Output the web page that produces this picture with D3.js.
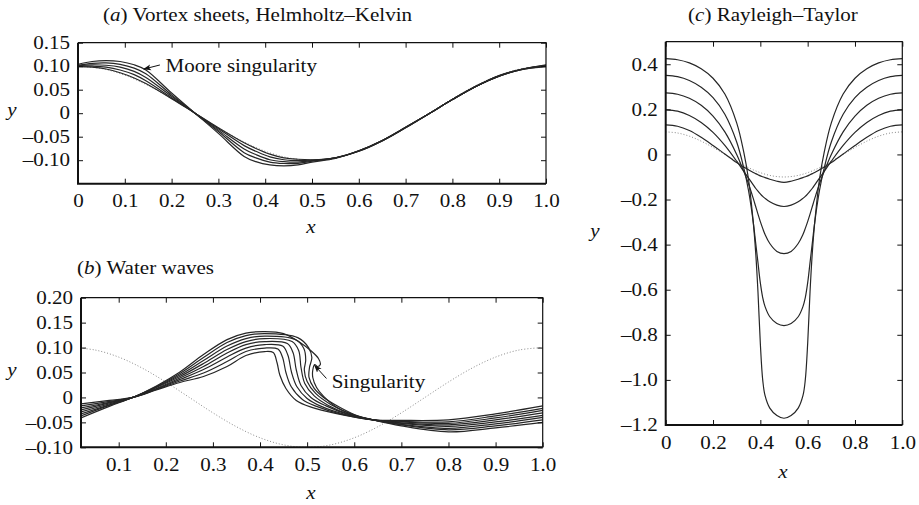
<!DOCTYPE html>
<html>
<head>
<meta charset="utf-8">
<script src="https://cdn.jsdelivr.net/npm/d3@7"></script>
<style>
    body { margin: 0; background: #fff; }
    svg text { font-family: "Liberation Serif", "Times New Roman", serif; font-size: 18px; fill: #111; }
</style>
</head>
<body>
<svg id="fig" width="919" height="505"></svg>
<script>
// ---------- data ----------
// initial condition (dotted), same in every panel
const xInit = [0, 0.05, 0.1, 0.15, 0.2, 0.25, 0.3, 0.35, 0.4, 0.45, 0.5, 0.55, 0.6, 0.65, 0.7, 0.75, 0.8, 0.85, 0.9, 0.95, 1.0];
const yInit = [0.1, 0.0951, 0.0809, 0.0588, 0.0309, 0, -0.0309, -0.0588, -0.0809, -0.0951, -0.1, -0.0951, -0.0809, -0.0588, -0.0309, 0, 0.0309, 0.0588, 0.0809, 0.0951, 0.1];

// (a) vortex sheets
const xA = [0, 0.03, 0.06, 0.09, 0.12, 0.145, 0.2, 0.25, 0.3, 0.355, 0.38, 0.41, 0.44, 0.47, 0.5, 0.55, 0.6, 0.65, 0.7, 0.75, 0.8, 0.85, 0.9, 0.95, 1.0];
const sheetA0 = [0.099, 0.098, 0.094, 0.086, 0.075, 0.063, 0.031, 0.000, -0.031, -0.063, -0.075, -0.087, -0.095, -0.098, -0.099, -0.095, -0.081, -0.059, -0.031, -0.001, 0.029, 0.057, 0.079, 0.093, 0.099];
const sheetA1 = [0.100, 0.100, 0.098, 0.092, 0.082, 0.069, 0.033, 0.000, -0.033, -0.069, -0.081, -0.093, -0.099, -0.101, -0.100, -0.095, -0.081, -0.059, -0.031, -0.001, 0.029, 0.057, 0.079, 0.093, 0.100];
const sheetA2 = [0.101, 0.103, 0.102, 0.098, 0.089, 0.076, 0.036, 0.000, -0.036, -0.076, -0.088, -0.099, -0.103, -0.104, -0.101, -0.095, -0.080, -0.058, -0.030, -0.001, 0.029, 0.057, 0.079, 0.094, 0.101];
const sheetA3 = [0.102, 0.106, 0.107, 0.104, 0.096, 0.084, 0.039, 0.000, -0.039, -0.084, -0.095, -0.104, -0.107, -0.107, -0.102, -0.095, -0.080, -0.058, -0.030, -0.001, 0.029, 0.057, 0.080, 0.094, 0.102];
const sheetA4 = [0.104, 0.110, 0.112, 0.110, 0.103, 0.092, 0.043, 0.000, -0.043, -0.092, -0.103, -0.110, -0.112, -0.110, -0.104, -0.096, -0.080, -0.058, -0.030, -0.001, 0.029, 0.057, 0.080, 0.094, 0.103];

// (b) water waves, [x, y] since the fronts overturn
const waveB0 = [[0.02,-0.013],[0.08,-0.006],[0.13,0.0],[0.18,0.015],[0.23,0.030],[0.28,0.042],[0.33,0.062],[0.37,0.084],[0.41,0.092],[0.428,0.090],[0.436,0.070],[0.442,0.045],[0.455,0.018],[0.477,-0.006],[0.51,-0.020],[0.56,-0.032],[0.64,-0.045],[0.7,-0.046],[0.8,-0.045],[0.9,-0.033],[1.0,-0.017]];
const waveB1 = [[0.02,-0.017],[0.08,-0.008],[0.13,0.0],[0.18,0.016],[0.23,0.033],[0.28,0.049],[0.33,0.072],[0.37,0.092],[0.41,0.099],[0.438,0.097],[0.448,0.080],[0.455,0.050],[0.466,0.022],[0.49,-0.004],[0.52,-0.018],[0.57,-0.033],[0.64,-0.045],[0.7,-0.048],[0.8,-0.049],[0.9,-0.037],[1.0,-0.022]];
const waveB2 = [[0.02,-0.021],[0.08,-0.010],[0.13,0.0],[0.18,0.017],[0.23,0.036],[0.28,0.056],[0.33,0.081],[0.37,0.099],[0.41,0.106],[0.448,0.103],[0.459,0.085],[0.467,0.050],[0.478,0.022],[0.50,-0.002],[0.53,-0.018],[0.58,-0.034],[0.64,-0.045],[0.7,-0.049],[0.8,-0.052],[0.9,-0.041],[1.0,-0.026]];
const waveB3 = [[0.02,-0.025],[0.08,-0.011],[0.13,0.0],[0.18,0.018],[0.23,0.039],[0.28,0.062],[0.33,0.089],[0.37,0.106],[0.41,0.112],[0.458,0.108],[0.470,0.090],[0.477,0.055],[0.487,0.024],[0.508,0.000],[0.54,-0.017],[0.59,-0.035],[0.64,-0.045],[0.7,-0.051],[0.8,-0.055],[0.9,-0.045],[1.0,-0.031]];
const waveB4 = [[0.02,-0.029],[0.08,-0.013],[0.13,0.0],[0.18,0.020],[0.23,0.042],[0.28,0.068],[0.33,0.096],[0.37,0.112],[0.41,0.118],[0.468,0.112],[0.482,0.094],[0.487,0.060],[0.495,0.028],[0.515,0.003],[0.545,-0.016],[0.59,-0.034],[0.64,-0.045],[0.7,-0.052],[0.8,-0.058],[0.9,-0.049],[1.0,-0.036]];
const waveB5 = [[0.02,-0.033],[0.08,-0.015],[0.13,0.0],[0.18,0.021],[0.23,0.045],[0.28,0.074],[0.33,0.103],[0.37,0.118],[0.41,0.123],[0.475,0.116],[0.493,0.098],[0.497,0.075],[0.494,0.055],[0.500,0.032],[0.518,0.008],[0.55,-0.014],[0.60,-0.036],[0.64,-0.045],[0.7,-0.054],[0.8,-0.062],[0.9,-0.053],[1.0,-0.040]];
const waveB6 = [[0.02,-0.037],[0.08,-0.016],[0.13,0.0],[0.18,0.022],[0.23,0.048],[0.28,0.080],[0.33,0.110],[0.37,0.124],[0.41,0.128],[0.48,0.120],[0.503,0.100],[0.510,0.080],[0.505,0.060],[0.504,0.040],[0.515,0.018],[0.535,0.000],[0.57,-0.020],[0.61,-0.038],[0.64,-0.045],[0.7,-0.055],[0.8,-0.065],[0.9,-0.057],[1.0,-0.045]];
const waveB7 = [[0.02,-0.041],[0.08,-0.018],[0.13,0.0],[0.18,0.023],[0.23,0.051],[0.28,0.086],[0.33,0.116],[0.37,0.129],[0.41,0.132],[0.45,0.128],[0.485,0.110],[0.51,0.092],[0.524,0.078],[0.528,0.066],[0.522,0.062],[0.516,0.066],[0.512,0.055],[0.512,0.040],[0.52,0.020],[0.535,0.002],[0.56,-0.018],[0.60,-0.035],[0.64,-0.045],[0.7,-0.057],[0.8,-0.069],[0.9,-0.061],[1.0,-0.050]];

// (c) Rayleigh-Taylor
const xC = [0, 0.05, 0.1, 0.15, 0.2, 0.25, 0.3, 0.33, 0.35, 0.37, 0.38, 0.39, 0.40, 0.41, 0.42, 0.44, 0.47, 0.5, 0.53, 0.56, 0.58, 0.59, 0.60, 0.61, 0.62, 0.63, 0.65, 0.67, 0.7, 0.75, 0.8, 0.85, 0.9, 0.95, 1.0];
const rtC0 = [0.131, 0.125, 0.106, 0.076, 0.040, 0.002, -0.036, -0.056, -0.068, -0.080, -0.085, -0.090, -0.095, -0.099, -0.103, -0.110, -0.119, -0.124, -0.119, -0.110, -0.103, -0.099, -0.095, -0.090, -0.085, -0.080, -0.068, -0.056, -0.036, 0.002, 0.040, 0.076, 0.106, 0.125, 0.131];
const rtC1 = [0.198, 0.192, 0.173, 0.142, 0.098, 0.040, -0.030, -0.075, -0.105, -0.135, -0.150, -0.163, -0.175, -0.186, -0.195, -0.210, -0.225, -0.231, -0.225, -0.210, -0.195, -0.186, -0.175, -0.163, -0.150, -0.135, -0.105, -0.075, -0.030, 0.040, 0.098, 0.142, 0.173, 0.192, 0.198];
const rtC2 = [0.273, 0.267, 0.249, 0.218, 0.170, 0.100, 0.000, -0.075, -0.130, -0.195, -0.230, -0.265, -0.298, -0.328, -0.355, -0.395, -0.430, -0.440, -0.430, -0.395, -0.355, -0.328, -0.298, -0.265, -0.230, -0.195, -0.130, -0.075, 0.000, 0.100, 0.170, 0.218, 0.249, 0.267, 0.273];
const rtC3 = [0.351, 0.345, 0.328, 0.298, 0.252, 0.178, 0.055, -0.060, -0.160, -0.300, -0.390, -0.480, -0.570, -0.635, -0.675, -0.720, -0.750, -0.759, -0.750, -0.720, -0.675, -0.635, -0.570, -0.480, -0.390, -0.300, -0.160, -0.060, 0.055, 0.178, 0.252, 0.298, 0.328, 0.345, 0.351];
const rtC4 = [0.425, 0.420, 0.406, 0.380, 0.338, 0.268, 0.140, 0.010, -0.110, -0.300, -0.430, -0.610, -0.840, -1.000, -1.070, -1.125, -1.158, -1.170, -1.158, -1.125, -1.070, -1.000, -0.840, -0.610, -0.430, -0.300, -0.110, 0.010, 0.140, 0.268, 0.338, 0.380, 0.406, 0.420, 0.425];

// ticks
const xTicksA = [0, 0.1, 0.2, 0.3, 0.4, 0.5, 0.6, 0.7, 0.8, 0.9, 1.0];
const yTicksA = [-0.10, -0.05, 0, 0.05, 0.10, 0.15];
const xTicksB = [0.1, 0.2, 0.3, 0.4, 0.5, 0.6, 0.7, 0.8, 0.9, 1.0];
const yTicksB = [-0.10, -0.05, 0, 0.05, 0.10, 0.15, 0.20];
const xTicksC = [0, 0.2, 0.4, 0.6, 0.8, 1.0];
const yTicksC = [-1.2, -1.0, -0.8, -0.6, -0.4, -0.2, 0, 0.2, 0.4];

// ---------- drawing ----------
const svg = d3.select("#fig");
const SX = 1.17;   // the printed type is stretched sideways

function tickFmt(digits) {
    const f = d3.format("." + digits + "f");
    return (d) => d === 0 ? "0" : (d < 0 ? "\u2013" : "") + f(Math.abs(d));
}

function addText(parts, x, y, anchor) {
    const t = svg.append("text")
        .attr("transform", "translate(" + x + "," + y + ") scale(" + SX + ",1)")
        .style("text-anchor", anchor || "start");
    parts.forEach((p) => {
        t.append("tspan").text(p[0]).style("font-style", p[1] ? "italic" : "normal");
    });
    return t;
}

const lineGen = (x, y) => d3.line().x((d) => x(d[0])).y((d) => y(d[1])).curve(d3.curveCatmullRom.alpha(0.5));

function makePanel(p) {
    const x = d3.scaleLinear().domain(p.xDomain).range([p.left, p.right]);
    const y = d3.scaleLinear().domain(p.yDomain).range([p.bottom, p.top]);
    const g = svg.append("g");

    g.append("clipPath").attr("id", p.id + "clip")
        .append("rect")
        .attr("x", p.left).attr("y", p.top)
        .attr("width", p.right - p.left).attr("height", p.bottom - p.top);

    const plot = g.append("g").attr("clip-path", "url(#" + p.id + "clip)");

    // dotted initial profile
    plot.append("path")
        .datum(xInit.map((v, i) => [v, yInit[i]]))
        .attr("d", lineGen(x, y))
        .attr("fill", "none")
        .attr("stroke", "#8a8a8a")
        .attr("stroke-width", 1)
        .attr("stroke-dasharray", "1,2");

    plot.selectAll("path.curve")
        .data(p.curves)
        .enter()
        .append("path")
        .attr("class", "curve")
        .attr("d", lineGen(x, y))
        .attr("fill", "none")
        .attr("stroke", "#262626")
        .attr("stroke-width", 1.2);

    // axes, ticks pointing inwards
    g.append("g").attr("transform", "translate(0," + p.bottom + ")")
        .call(d3.axisBottom(x).tickValues(p.xTicks).tickSizeInner(-5).tickSizeOuter(0).tickPadding(11).tickFormat(tickFmt(1)));
    g.append("g").attr("transform", "translate(" + p.left + ",0)")
        .call(d3.axisLeft(y).tickValues(p.yTicks).tickSizeInner(-5).tickSizeOuter(0).tickPadding(6.8).tickFormat(tickFmt(p.yDigits)));
    g.append("g").attr("transform", "translate(0," + p.top + ")")
        .call(d3.axisTop(x).tickValues(p.xTicks).tickSizeInner(-5).tickSizeOuter(0).tickFormat(""));
    g.append("g").attr("transform", "translate(" + p.right + ",0)")
        .call(d3.axisRight(y).tickValues(p.yTicks).tickSizeInner(-5).tickSizeOuter(0).tickFormat(""));

    g.selectAll(".domain").remove();
    g.selectAll(".tick line").attr("stroke", "#111").attr("stroke-width", 1);
    g.selectAll(".tick text")
        .attr("transform", "scale(" + SX + ",1)")
        .attr("font-family", null).attr("font-size", null)
        .attr("fill", "#111");

    // frame: heavier bottom and left
    g.append("path")
        .attr("d", "M" + p.left + "," + p.top + "H" + p.right + "V" + p.bottom)
        .attr("fill", "none").attr("stroke", "#111").attr("stroke-width", 1.2);
    g.append("path")
        .attr("d", "M" + p.left + "," + p.top + "V" + p.bottom + "H" + p.right)
        .attr("fill", "none").attr("stroke", "#111").attr("stroke-width", 2);

    return { x, y, g };
}

svg.append("defs").append("marker")
    .attr("id", "arrow")
    .attr("viewBox", "0 -4 8 8")
    .attr("refX", 7).attr("refY", 0)
    .attr("markerWidth", 8).attr("markerHeight", 8)
    .attr("markerUnits", "userSpaceOnUse")
    .attr("orient", "auto")
    .append("path")
    .attr("d", "M0,-3L8,0L0,3L2,0Z")
    .attr("fill", "#111");

function arrow(panel, from, to) {
    svg.append("line")
        .attr("x1", panel.x(from[0])).attr("y1", panel.y(from[1]))
        .attr("x2", panel.x(to[0])).attr("y2", panel.y(to[1]))
        .attr("stroke", "#111").attr("stroke-width", 1)
        .attr("marker-end", "url(#arrow)");
}

// (a)
const pA = makePanel({
    id: "a", left: 78, right: 546, top: 42.7, bottom: 183.7,
    xDomain: [0, 1], yDomain: [-0.15, 0.15], xTicks: xTicksA, yTicks: yTicksA, yDigits: 2,
    curves: [sheetA0, sheetA1, sheetA2, sheetA3, sheetA4].map((c) => c.map((v, i) => [xA[i], v]))
});
addText([["("], ["a", true], [") Vortex sheets, Helmholtz\u2013Kelvin"]], 103, 21);
addText([["y", true]], 12, 116, "middle");
addText([["x", true]], 311, 233, "middle");
arrow(pA, [0.175, 0.1026], [0.141, 0.094]);
addText([["Moore singularity"]], pA.x(0.187), pA.y(0.088));

// (b)
const pB = makePanel({
    id: "b", left: 81, right: 542.7, top: 297.7, bottom: 447.3,
    xDomain: [0.02, 1], yDomain: [-0.1, 0.2], xTicks: xTicksB, yTicks: yTicksB, yDigits: 2,
    curves: [waveB0, waveB1, waveB2, waveB3, waveB4, waveB5, waveB6, waveB7]
});
addText([["("], ["b", true], [") Water waves"]], 77, 274);
addText([["y", true]], 12, 376, "middle");
addText([["x", true]], 311, 499, "middle");
arrow(pB, [0.541, 0.038], [0.516, 0.064]);
addText([["Singularity"]], pB.x(0.552), pB.y(0.019));

// (c)
const pC = makePanel({
    id: "c", left: 665.7, right: 902.3, top: 41.7, bottom: 425,
    xDomain: [0, 1], yDomain: [-1.2, 0.5], xTicks: xTicksC, yTicks: yTicksC, yDigits: 1,
    curves: [rtC0, rtC1, rtC2, rtC3, rtC4].map((c) => c.map((v, i) => [xC[i], v]))
});
addText([["("], ["c", true], [") Rayleigh\u2013Taylor"]], 688, 21);
addText([["y", true]], 595, 237, "middle");
addText([["x", true]], 783, 478, "middle");
</script>
</body>
</html>
